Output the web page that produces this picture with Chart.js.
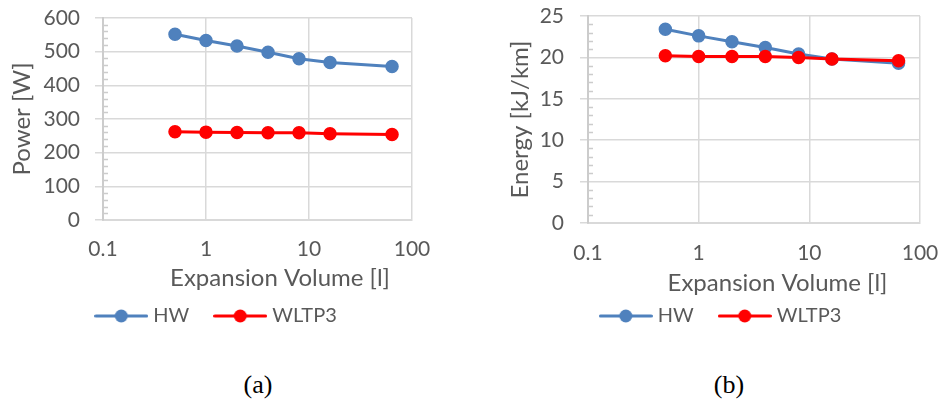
<!DOCTYPE html>
<html>
<head>
<meta charset="utf-8">
<script src="https://cdn.jsdelivr.net/npm/chart.js@4/dist/chart.umd.min.js"></script>
<style>
  html, body { margin: 0; padding: 0; background: #fff; }
  body { width: 941px; height: 401px; position: relative; overflow: hidden; }
  canvas { position: absolute; top: 0; }
  #chartA { left: 0; }
  #chartB { left: 470px; }
  .caption {
    position: absolute; top: 370px;
    font-family: "Liberation Serif", "Times New Roman", serif;
    font-size: 26px; color: #000;
    transform: translateX(-50%);
  }
</style>
</head>
<body>
<canvas id="chartA" width="470" height="340"></canvas>
<canvas id="chartB" width="471" height="340"></canvas>
<div class="caption" style="left:258px">(a)</div>
<div class="caption" style="left:729px">(b)</div>

<script>
// Expansion volume in litres (shared x values)
const volumes = [0.5, 1, 2, 4, 8, 16, 64];

// (a) mean power [W]
const hwPower    = [552, 533, 517, 498, 479, 468, 456];
const wltp3Power = [262, 261, 260, 259, 259, 256, 254];

// (b) energy per distance [kJ/km]
const hwEnergy    = [23.4, 22.6, 21.9, 21.2, 20.4, 19.8, 19.3];
const wltp3Energy = [20.2, 20.1, 20.1, 20.1, 20.0, 19.8, 19.6];

const seriesNames = ['HW', 'WLTP3'];

// Axis ticks
const xTickValues = [0.1, 1, 10, 100];
const xTickLabels = ['0.1', '1', '10', '100'];
const powerTicks  = [0, 100, 200, 300, 400, 500, 600];
const energyTicks = [0, 5, 10, 15, 20, 25];

const BLUE = '#4F81BD';
const RED = '#FF0000';
const TEXT = '#595959';
const GRID = '#d9d9d9';
const FONT = 'Lato, "Open Sans", sans-serif';

// Legend glyph: line with a round marker in the middle
function legendGlyph(color) {
  const c = document.createElement('canvas');
  c.width = 54; c.height = 16;
  const g = c.getContext('2d');
  g.strokeStyle = color; g.lineWidth = 3; g.lineCap = 'round';
  g.beginPath(); g.moveTo(1.5, 8); g.lineTo(52.5, 8); g.stroke();
  g.fillStyle = color;
  g.beginPath(); g.arc(27, 8, 6.5, 0, Math.PI * 2); g.fill();
  return c;
}
const glyphs = [legendGlyph(BLUE), legendGlyph(RED)];

// Short minor tick marks on the inside of the value axis
const minorTicks = {
  id: 'minorTicks',
  beforeDatasetsDraw(chart, args, opts) {
    const y = chart.scales.y, a = chart.chartArea, ctx = chart.ctx;
    const vals = y.ticks.map(t => t.value);
    ctx.save();
    ctx.strokeStyle = opts.color; ctx.lineWidth = opts.width;
    ctx.beginPath();
    for (let i = 0; i < vals.length - 1; i++) {
      const step = (vals[i + 1] - vals[i]) / opts.divisions;
      for (let k = 1; k < opts.divisions; k++) {
        const py = Math.round(y.getPixelForValue(vals[i] + k * step)) + 0.5;
        ctx.moveTo(a.left, py); ctx.lineTo(a.left + opts.length, py);
      }
    }
    ctx.stroke();
    ctx.restore();
  }
};

// Axis titles placed relative to the plot area
const axisCaptions = {
  id: 'axisCaptions',
  afterDraw(chart, args, o) {
    const a = chart.chartArea, ctx = chart.ctx;
    ctx.save();
    ctx.fillStyle = o.color; ctx.font = o.font;
    ctx.textAlign = 'center'; ctx.textBaseline = 'middle';
    ctx.fillText(o.xText, (a.left + a.right) / 2 + o.xShift, a.bottom + o.xGap);
    ctx.translate(o.yX, (a.top + a.bottom) / 2 + o.yShift);
    ctx.rotate(-Math.PI / 2);
    ctx.fillText(o.yText, 0, 0);
    ctx.restore();
  }
};

function makeChart(id, cfg) {
  const datasets = [
    { label: seriesNames[0], data: volumes.map((v, i) => ({ x: v, y: cfg.hw[i] })), color: BLUE, order: 1 },
    { label: seriesNames[1], data: volumes.map((v, i) => ({ x: v, y: cfg.wltp[i] })), color: RED, order: 0 }
  ].map(d => ({
    label: d.label, data: d.data, order: d.order,
    borderColor: d.color, backgroundColor: d.color,
    pointBackgroundColor: d.color, pointBorderColor: d.color,
    borderWidth: 3, pointRadius: 6, pointBorderWidth: 1.5,
    pointHoverRadius: 6, tension: 0, fill: false
  }));

  return new Chart(document.getElementById(id), {
    type: 'line',
    data: { datasets },
    plugins: [minorTicks, axisCaptions],
    options: {
      responsive: false,
      animation: false,
      layout: { padding: cfg.padding, autoPadding: false },
      scales: {
        x: {
          type: 'logarithmic', min: 0.1, max: 100,
          afterBuildTicks(s) { s.ticks = xTickValues.map(v => ({ value: v })); },
          afterFit(s) {
            s.height = cfg.xHeight;
            s.paddingLeft = 0; s.paddingRight = 0;
          },
          ticks: {
            autoSkip: false, maxRotation: 0, padding: cfg.xTickPad,
            color: TEXT, font: { family: FONT, size: 21 },
            callback: (v, i) => xTickLabels[i]
          },
          grid: { color: GRID, lineWidth: 1.5, drawTicks: false },
          border: { color: GRID, width: 2 }
        },
        y: {
          min: cfg.yTicks[0], max: cfg.yTicks[cfg.yTicks.length - 1],
          afterBuildTicks(s) { s.ticks = cfg.yTicks.map(v => ({ value: v })); },
          afterFit(s) {
            s.width = cfg.yWidth;
            s.paddingTop = 0; s.paddingBottom = 0;
          },
          ticks: {
            padding: cfg.yTickPad, color: TEXT, font: { family: FONT, size: 21 },
            callback: v => String(v)
          },
          grid: { color: GRID, lineWidth: 1.5, tickLength: 8 },
          border: { color: '#cccccc', width: 2 }
        }
      },
      plugins: {
        tooltip: { enabled: false },
        legend: {
          position: 'bottom',
          labels: {
            usePointStyle: true, pointStyleWidth: 44, padding: 29,
            color: TEXT, font: { family: FONT, size: 20 },
            generateLabels: chart => chart.data.datasets.map((ds, i) => ({
              text: ds.label, pointStyle: glyphs[i], datasetIndex: i,
              fillStyle: ds.borderColor, strokeStyle: ds.borderColor,
              lineWidth: 0, hidden: false, fontColor: TEXT
            }))
          }
        },
        minorTicks: { color: '#cccccc', width: 1.5, length: 5, divisions: 5 },
        axisCaptions: {
          color: TEXT, font: '24px ' + FONT,
          xText: 'Expansion Volume [l]', xShift: cfg.xShift, xGap: cfg.xGap,
          yText: cfg.yTitle, yX: cfg.yX, yShift: 0
        }
      }
    }
  });
}

makeChart('chartA', {
  hw: hwPower, wltp: wltp3Power, yTicks: powerTicks, yTitle: 'Power [W]',
  padding: { left: 24, right: 58, top: 18, bottom: 4 },
  yWidth: 79, yTickPad: 15, xHeight: 57, xTickPad: 17,
  xShift: 22.5, xGap: 58, yX: 22
});

makeChart('chartB', {
  hw: hwEnergy, wltp: wltp3Energy, yTicks: energyTicks, yTitle: 'Energy [kJ/km]',
  padding: { left: 55, right: 21, top: 16, bottom: 4 },
  yWidth: 63, yTickPad: 16, xHeight: 54, xTickPad: 18,
  xShift: 23.5, xGap: 60, yX: 50
});
</script>
</body>
</html>
